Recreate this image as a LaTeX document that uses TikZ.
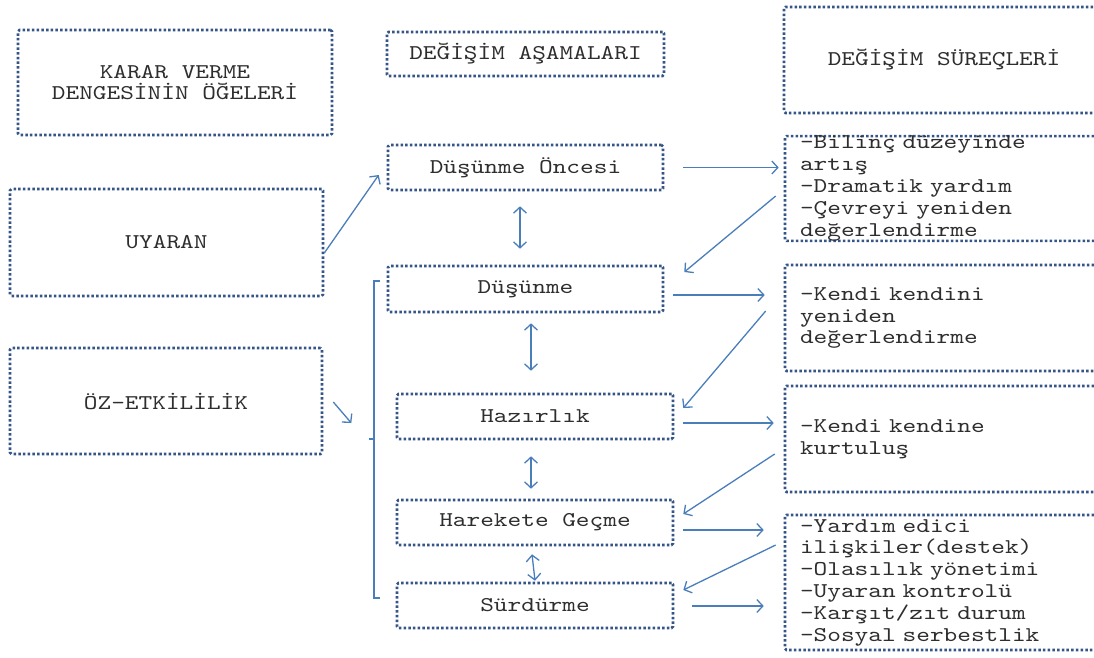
\documentclass[tikz,border=0pt]{standalone}
\usepackage{fontspec}
\newfontfamily\boxfont{lmmono10-regular.otf}[FakeStretch=1.24]
\usetikzlibrary{arrows.meta,calc}
\definecolor{boxblue}{HTML}{355587}
\definecolor{arrblue}{HTML}{4A7EBB}
\definecolor{txt}{HTML}{2E2E2E}
\tikzset{
  box/.style={draw=boxblue, line width=2.6pt, dash pattern=on 2.5pt off 2.2pt,
    rounded corners=1.5pt, inner sep=0pt, text=txt, align=center,
    font=\boxfont\fontsize{21}{21.8}\selectfont},
  listbox/.style={box, align=left, text width=290pt, inner xsep=15pt,
    minimum width=320pt},
  arr/.style={draw=arrblue, line width=1.3pt,
    -{Straight Barb[length=6pt,width=13pt,line width=1.3pt]}},
  darr/.style={draw=arrblue, line width=1.3pt,
    {Straight Barb[length=6pt,width=13pt,line width=1.3pt]}-{Straight Barb[length=6pt,width=13pt,line width=1.3pt]}},
}
\begin{document}
\begin{tikzpicture}[x=1pt,y=-1pt]
\fill[white] (0,0) rectangle (1094,657);
\clip (0,0) rectangle (1094,657);

% column headings
\node[box, minimum width=314pt, minimum height=105pt] (karar) at (175,82.5)
  {KARAR VERME\\DENGESİNİN ÖĞELERİ};
\node[box, minimum width=277pt, minimum height=44pt] (asama) at (525.5,54)
  {DEĞİŞİM AŞAMALARI};
\node[box, minimum width=320pt, minimum height=106pt] (surec) at (944,60)
  {DEĞİŞİM SÜREÇLERİ};

% left column
\node[box, minimum width=313pt, minimum height=107pt] (uyaran) at (166.5,242.5) {UYARAN};
\node[box, minimum width=312pt, minimum height=106pt] (oz) at (166,401) {ÖZ-ETKİLİLİK};

% stages of change
\node[box, minimum width=275pt, minimum height=45pt] (doe) at (525.5,167.5) {Düşünme Öncesi};
\node[box, minimum width=275pt, minimum height=46pt] (dus) at (525.5,289) {Düşünme};
\node[box, minimum width=276pt, minimum height=45pt] (haz) at (535,416.5) {Hazırlık};
\node[box, minimum width=276pt, minimum height=45pt] (har) at (535,522.5) {Harekete Geçme};
\node[box, minimum width=276pt, minimum height=45pt] (sur) at (535,605.5) {Sürdürme};

% processes of change
\node[listbox, minimum height=103pt] (p1) at (945,188.5)
  {-Bilinç düzeyinde\\artış\\-Dramatik yardım\\-Çevreyi yeniden\\değerlendirme};
\node[listbox, minimum height=106pt] (p2) at (945,318)
  {-Kendi kendini\\yeniden\\değerlendirme};
\node[listbox, minimum height=106pt] (p3) at (945,439)
  {-Kendi kendine\\kurtuluş};
\node[listbox, minimum height=135pt] (p4) at (945,582.5)
  {-Yardım edici\\ilişkiler(destek)\\-Olasılık yönetimi\\-Uyaran kontrolü\\-Karşıt/zıt durum\\-Sosyal serbestlik};

% bracket grouping the later stages
\draw[arrblue, line width=1.3pt] (380,281) -- (374,281) -- (374,598) -- (380,598);
\draw[arrblue, line width=1.3pt] (369,439) -- (374,439);

% inputs
\draw[arr] ($(uyaran.east)+(0,10.5)$) -- ($(doe.west)+(-8,7.5)$);
\draw[arr] ($(oz.east)+(10,1)$) -- ($(oz.east)+(28,22)$);

% links between stages
\draw[darr] ($(doe.south)+(-5.5,15)$) -- ($(dus.north)+(-5.5,-16)$);
\draw[darr] ($(dus.south)+(5.5,10)$) -- ($(haz.north)+(-4,-22)$);
\draw[darr] ($(haz.south)+(-4,16)$) -- ($(har.north)+(-4,-10)$);
\draw[darr] ($(har.south)+(-3,8)$) -- ($(sur.north)+(0,-1)$);

% stage to process
\draw[arr] ($(doe.east)+(19,0)$) -- ($(doe.east -| p1.west)+(-5,0)$);
\draw[arr] ($(dus.east)+(9,6)$) -- ($(dus.east -| p2.west)+(-19,6)$);
\draw[arr] ($(haz.east)+(9,6.5)$) -- ($(haz.east -| p3.west)+(-10,6.5)$);
\draw[arr] ($(har.east)+(9,7.5)$) -- ($(har.east -| p4.west)+(-20,7.5)$);
\draw[arr] ($(sur.east)+(18,0.5)$) -- ($(sur.east -| p4.west)+(-20,0.5)$);

% process back to next stage
\draw[arr] ($(p1.west)+(-8,7.5)$) -- ($(dus.east)+(20,-17)$);
\draw[arr] ($(p2.west)+(-18,-7)$) -- ($(haz.east)+(9,-8.5)$);
\draw[arr] ($(p3.west)+(-9,15)$) -- ($(har.east)+(9,-8.5)$);
\draw[arr] ($(p4.west)+(-8,-37.5)$) -- ($(sur.east)+(9,-15.5)$);
\end{tikzpicture}
\end{document}
